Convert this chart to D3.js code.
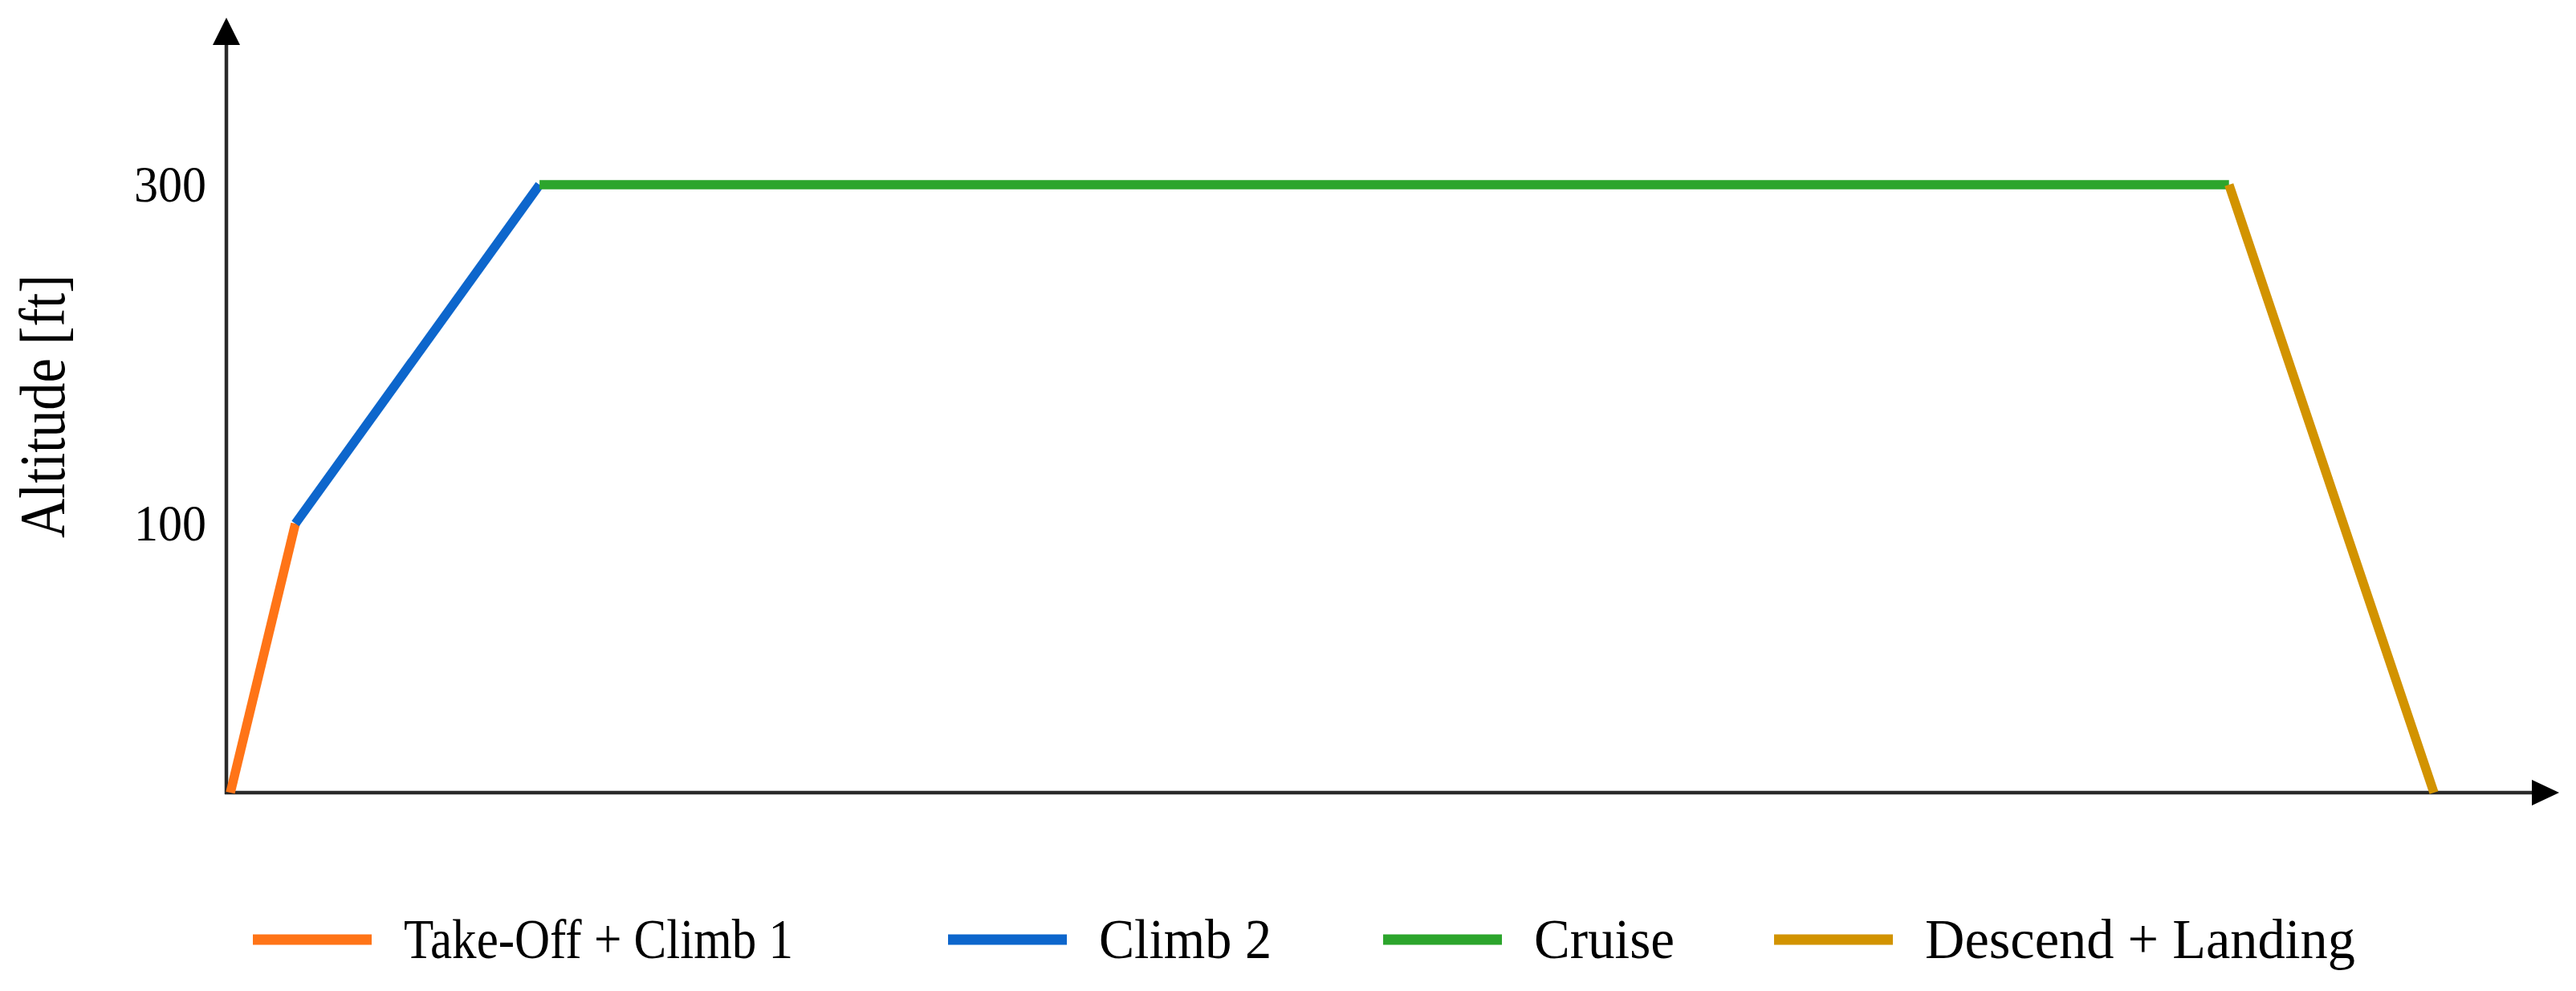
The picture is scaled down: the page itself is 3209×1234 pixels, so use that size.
<!DOCTYPE html>
<html>
<head>
<meta charset="utf-8">
<script src="https://cdn.jsdelivr.net/npm/d3@7"></script>
<style>
  html, body { margin: 0; padding: 0; background: #fff; }
  svg { display: block; }
  text { font-family: 'Liberation Serif', 'Times New Roman', serif; fill: #000; }
</style>
</head>
<body>
<svg id="chart" width="3209" height="1234"></svg>
<script>
// flight profile (x = relative flight time, y = altitude in ft)
const phases = ['Take-Off + Climb 1', 'Climb 2', 'Cruise', 'Descend + Landing'];
const phaseColors = ['#ff7417', '#0d66cc', '#2ca52c', '#d29300'];
const timePoints = [0, 2.95, 14.03, 90.7, 100];
const altitudes = [0, 100, 300, 300, 0];
const altTicks = [100, 300];
const altTickLabels = ['100', '300'];

const W = 3209, H = 1234;
const svg = d3.select('#chart');

// the drawing is schematic: altitude axis is not to scale, so use a piecewise scale
const x = d3.scaleLinear().domain([0, 100]).range([287, 3032]);
const y = d3.scaleLinear().domain([0, 100, 300]).range([987, 652, 230]);
const x0 = 282, y0 = 987;

// axes with arrow heads
svg.append('line').attr('x1', x0).attr('y1', y0 + 2).attr('x2', x0).attr('y2', 50)
  .attr('stroke', '#2a2a2a').attr('stroke-width', 4.5);
svg.append('path').attr('d', `M${x0},22 L${x0 - 17},56 L${x0 + 17},56 Z`).attr('fill', '#000');
svg.append('line').attr('x1', x0 - 2).attr('y1', y0).attr('x2', 3160).attr('y2', y0)
  .attr('stroke', '#2a2a2a').attr('stroke-width', 4.5);
svg.append('path').attr('d', `M3188,${y0} L3154,${y0 - 16} L3154,${y0 + 16} Z`).attr('fill', '#000');

// tick labels (no tick marks)
svg.append('g').selectAll('text').data(altTicks).join('text')
  .attr('x', 257).attr('y', d => y(d) + 21)
  .attr('text-anchor', 'end').attr('font-size', 64)
  .attr('textLength', 90).attr('lengthAdjust', 'spacingAndGlyphs')
  .text((d, i) => altTickLabels[i]);

svg.append('text')
  .attr('transform', 'translate(80,506) rotate(-90)')
  .attr('text-anchor', 'middle').attr('font-size', 80)
  .attr('textLength', 328).attr('lengthAdjust', 'spacingAndGlyphs')
  .text('Altitude [ft]');

// profile segments
const pts = timePoints.map((t, i) => [x(t), y(altitudes[i])]);
const line = d3.line();
svg.append('g').selectAll('path').data(phases).join('path')
  .attr('d', (d, i) => line([pts[i], pts[i + 1]]))
  .attr('fill', 'none')
  .attr('stroke', (d, i) => phaseColors[i])
  .attr('stroke-width', 11.5)
  .attr('stroke-linecap', 'butt');

// legend
const legendX = [315, 1181, 1723, 2210];
const legendTextW = [485, 215, 175, 536];
const legendY = 1170;
const lg = svg.append('g').selectAll('g').data(phases).join('g')
  .attr('transform', (d, i) => `translate(${legendX[i]},${legendY})`);
lg.append('line').attr('x1', 0).attr('x2', 148).attr('y1', 0).attr('y2', 0)
  .attr('stroke', (d, i) => phaseColors[i]).attr('stroke-width', 13);
lg.append('text').attr('x', 188).attr('y', 23).attr('font-size', 70)
  .attr('textLength', (d, i) => legendTextW[i]).attr('lengthAdjust', 'spacingAndGlyphs')
  .text(d => d);
</script>
</body>
</html>
